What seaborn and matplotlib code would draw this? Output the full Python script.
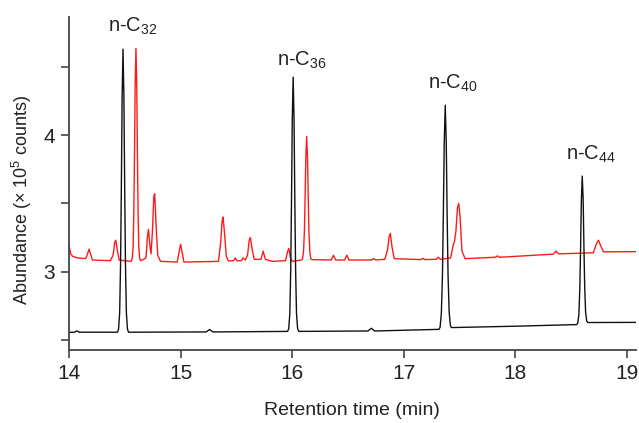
import numpy as np
import pandas as pd
import matplotlib
matplotlib.use("Agg")
import matplotlib.pyplot as plt
import seaborn as sns

# Retention time (min) / abundance (x 10^5 counts)
black_time = [14.000, 14.050, 14.070, 14.090,
              14.434, 14.444, 14.454, 14.462, 14.469, 14.476, 14.484, 14.492, 14.499, 14.506, 14.514, 14.524, 14.534,
              15.230, 15.260, 15.290,
              15.959, 15.969, 15.979, 15.987, 15.994, 16.001, 16.009, 16.017, 16.024, 16.031, 16.039, 16.049, 16.059,
              16.680, 16.710, 16.740,
              17.316, 17.326, 17.337, 17.347, 17.355, 17.363, 17.372, 17.381, 17.389, 17.397, 17.407, 17.418, 17.428,
              18.000,
              18.550, 18.560, 18.570, 18.578, 18.585, 18.592, 18.600, 18.608, 18.615, 18.622, 18.630, 18.640, 18.650,
              19.080]
black_abund = [2.555, 2.556, 2.566, 2.556,
               2.556, 2.577, 2.701, 3.054, 3.614, 4.277, 4.630, 4.277, 3.614, 3.054, 2.701, 2.577, 2.556,
               2.558, 2.576, 2.558,
               2.562, 2.581, 2.692, 3.009, 3.512, 4.108, 4.425, 4.108, 3.512, 3.009, 2.692, 2.581, 2.562,
               2.565, 2.585, 2.565,
               2.577, 2.593, 2.692, 2.971, 3.415, 3.941, 4.220, 3.950, 3.420, 2.980, 2.705, 2.606, 2.590,
               2.600,
               2.612, 2.623, 2.688, 2.872, 3.168, 3.517, 3.700, 3.532, 3.183, 2.887, 2.703, 2.638, 2.627,
               2.628]

red_time = [14.000, 14.015, 14.035, 14.080, 14.150, 14.170, 14.180, 14.192, 14.210,
            14.370, 14.395, 14.410, 14.420, 14.432, 14.450,
            14.556, 14.566, 14.575, 14.581, 14.587, 14.593, 14.600, 14.607, 14.613, 14.619, 14.625, 14.634, 14.644,
            14.690, 14.702, 14.712, 14.724, 14.735, 14.748, 14.760, 14.768, 14.780, 14.795, 14.820,
            14.970, 14.988, 15.000, 15.012, 15.030,
            15.340, 15.360, 15.372, 15.380, 15.392, 15.410, 15.430,
            15.475, 15.490, 15.505, 15.545, 15.560, 15.580,
            15.600, 15.615, 15.625, 15.640, 15.660, 15.720, 15.740, 15.760, 15.820,
            15.940, 15.960, 15.970, 15.985, 16.000,
            16.083, 16.093, 16.102, 16.110, 16.116, 16.1225, 16.130, 16.1375, 16.144, 16.150, 16.158, 16.167, 16.177,
            16.350, 16.370, 16.390, 16.470, 16.490, 16.510, 16.710, 16.730, 16.750,
            16.830, 16.855, 16.870, 16.880, 16.895, 16.915,
            17.150, 17.170, 17.190, 17.290, 17.310, 17.330,
            17.420, 17.445, 17.455, 17.468, 17.482, 17.493, 17.505, 17.522, 17.550,
            17.820, 17.840, 17.860, 18.340, 18.365, 18.390,
            18.700, 18.725, 18.745, 18.765, 18.790, 19.080]
red_abund = [3.190, 3.130, 3.110, 3.100, 3.095, 3.140, 3.165, 3.130, 3.085,
             3.080, 3.120, 3.215, 3.230, 3.160, 3.085,
             3.075, 3.091, 3.184, 3.449, 3.871, 4.370, 4.635, 4.370, 3.871, 3.449, 3.184, 3.091, 3.080,
             3.100, 3.250, 3.310, 3.200, 3.130, 3.300, 3.550, 3.570, 3.350, 3.120, 3.075,
             3.070, 3.150, 3.200, 3.150, 3.070,
             3.075, 3.220, 3.370, 3.400, 3.300, 3.110, 3.078,
             3.080, 3.100, 3.080, 3.080, 3.100, 3.085,
             3.120, 3.230, 3.250, 3.170, 3.090, 3.090, 3.150, 3.090, 3.075,
             3.080, 3.150, 3.170, 3.100, 3.075,
             3.085, 3.094, 3.148, 3.302, 3.547, 3.836, 3.990, 3.836, 3.547, 3.302, 3.148, 3.094, 3.088,
             3.085, 3.120, 3.085, 3.085, 3.120, 3.085, 3.085, 3.095, 3.085,
             3.090, 3.160, 3.260, 3.280, 3.180, 3.095,
             3.088, 3.097, 3.088, 3.090, 3.105, 3.090,
             3.100, 3.200, 3.220, 3.300, 3.470, 3.500, 3.400, 3.150, 3.095,
             3.105, 3.115, 3.105, 3.128, 3.150, 3.130,
             3.138, 3.200, 3.230, 3.190, 3.145, 3.146]

peak_labels = ["n-C$_{32}$", "n-C$_{36}$", "n-C$_{40}$", "n-C$_{44}$"]
label_x = [14.57, 16.09, 17.44, 18.68]
label_y = [4.80, 4.55, 4.38, 3.86]

sns.set_style("ticks")
plt.rcParams['font.family'] = ['Liberation Sans', 'DejaVu Sans']
plt.rcParams['mathtext.default'] = 'regular'

black_df = pd.DataFrame({'time': black_time, 'abund': black_abund})
red_df = pd.DataFrame({'time': red_time, 'abund': red_abund})

fig = plt.figure(figsize=(6.39, 4.23), dpi=100)
ax = fig.add_axes([0.108, 0.173, 0.887, 0.787])

sns.lineplot(data=red_df, x='time', y='abund', color='#ff1a1a', lw=1.0,
             sort=False, estimator=None, ax=ax)
sns.lineplot(data=black_df, x='time', y='abund', color='#111111', lw=1.0,
             sort=False, estimator=None, ax=ax)

for lab, lx, ly in zip(peak_labels, label_x, label_y):
    ax.text(lx, ly, lab, ha='center', va='center', fontsize=14.5, color='#222222')

ax.set_xlim(14, 19.08)
ax.set_ylim(2.427, 4.866)
ax.set_xticks([14, 15, 16, 17, 18, 19])
ax.set_yticks([2.5, 3, 3.5, 4, 4.5])
ax.set_yticklabels(['', '3', '', '4', ''])

ax.set_xlabel('Retention time (min)', fontsize=14, color='#222222', labelpad=14)
ax.set_ylabel('Abundance (× 10$^5$ counts)', fontsize=13, color='#222222')
ax.yaxis.set_label_coords(-0.062, 0.45)

ax.tick_params(axis='both', direction='out', length=6, width=1.2, colors='#444444',
               labelcolor='#222222', labelsize=15, pad=4)

sns.despine(ax=ax)
for s in ['left', 'bottom']:
    ax.spines[s].set_color('#444444')
    ax.spines[s].set_linewidth(1.3)

fig.savefig('out.png', dpi=100)
